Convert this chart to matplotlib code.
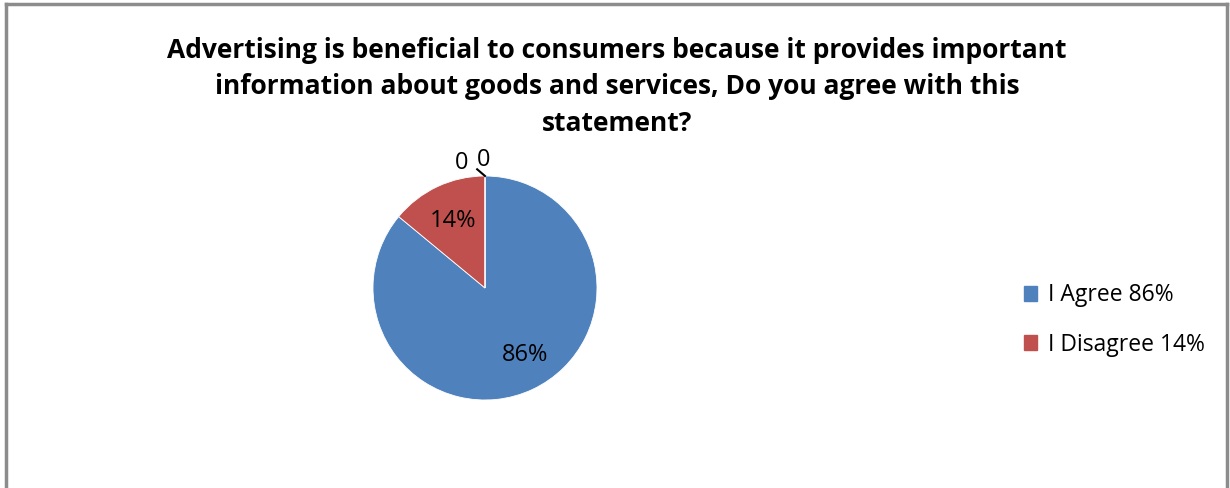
import matplotlib.pyplot as plt
import numpy as np
from matplotlib.patches import Patch
from matplotlib.lines import Line2D

# данные
answers = ['I Agree 86%', 'I Disagree 14%', '', '']
shares = [86, 14, 0, 0]
slice_labels = ['86%', '14%', '0', '0']
colors = ['#4F81BD', '#C0504D', '#9BBB59', '#8064A2']

title = ('Advertising is beneficial to consumers because it provides important\n'
         'information about goods and services, Do you agree with this\n'
         'statement?')

W, H = 1230, 488
fig = plt.figure(figsize=(W / 100, H / 100), dpi=100)
plt.rcParams['font.family'] = ['Open Sans', 'DejaVu Sans']

# рамка диаграммы (нижний край за пределами картинки)
for xs, ys in [([6 / W, 6 / W], [0, 1 - 4 / H]),
               ([6 / W, 1227 / W], [1 - 4 / H, 1 - 4 / H]),
               ([1227 / W, 1227 / W], [0, 1 - 4 / H])]:
    fig.add_artist(Line2D(xs, ys, color='#8c8c8c', lw=2.5, transform=fig.transFigure))

fig.text(617 / W, 1 - 87 / H, title, ha='center', va='center', fontsize=19,
         fontweight='bold', linespacing=1.45)

cx, cy, r = 485, 288, 112
ax = fig.add_axes([(cx - r) / W, (H - cy - r) / H, 2 * r / W, 2 * r / H])
wedges, _ = ax.pie(shares, colors=colors, startangle=90, counterclock=False,
                   radius=1, wedgeprops=dict(edgecolor='white', linewidth=0.6))
ax.set_xlim(-1, 1)
ax.set_ylim(-1, 1)
ax.set_aspect('equal')
ax.axis('off')

# подписи долей
for w, lab, val in zip(wedges, slice_labels, shares):
    ang = np.deg2rad((w.theta1 + w.theta2) / 2)
    if val > 0:
        ax.text(0.66 * np.cos(ang) + (0.08 if val > 50 else 0), 0.66 * np.sin(ang), lab,
                ha='center', va='center', fontsize=17)

# нулевые доли - подписи с выносной линией
ax.plot([0, -0.07], [1.0, 1.06], color='black', lw=1.5, clip_on=False)
ax.text(-0.21, 1.115, slice_labels[2], ha='center', va='center', fontsize=17, clip_on=False)
ax.text(-0.01, 1.145, slice_labels[3], ha='center', va='center', fontsize=17, clip_on=False)

handles = [Patch(facecolor=colors[i], edgecolor=colors[i]) for i in range(2)]
fig.legend(handles, answers[:2], loc='center left', bbox_to_anchor=(1003 / W, 1 - 320 / H),
           frameon=False, fontsize=16.5, handlelength=0.6, handleheight=0.6,
           handletextpad=0.45, labelspacing=1.1)

fig.savefig('out.png', dpi=100)
